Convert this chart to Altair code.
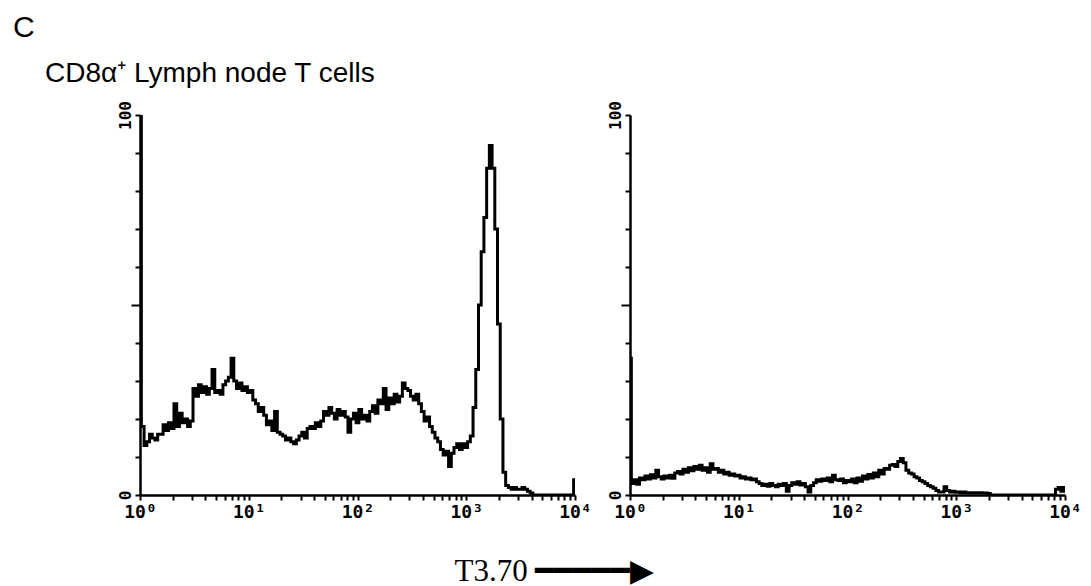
import altair as alt
import pandas as pd

# histogram channels: 40 channels per decade, channel 0 = 10^0
CHANNELS_PER_DECADE = 40

LEFT_COUNTS = [
    100, 18, 13, 14, 16, 15, 14.5, 16,
    16, 18.5, 17, 19, 17.5, 24, 18, 21.5,
    19, 20, 18, 19.5, 28, 26, 29, 27,
    28.5, 26.5, 28, 33, 27, 27.5, 26.5, 29,
    30, 31, 36, 30, 28, 29.5, 27.5, 28.5,
    27, 27.5, 25, 24, 22, 23, 21, 18.5,
    19.5, 17, 22, 16.5, 16, 15.5, 14.5, 15,
    14, 13.5, 14.5, 15.5, 16.5, 15, 17.5, 18,
    17.5, 19, 18, 19.5, 22, 21, 23, 21.5,
    20, 22.5, 21, 22, 20.5, 16.5, 20, 21.5,
    19, 22.5, 20, 21, 19.5, 22, 23.5, 21.5,
    25, 24, 28, 22.5, 25.5, 24, 26.5, 24.5,
    26, 29.5, 28, 27.5, 26, 25, 26.5, 24,
    22, 19.5, 20.5, 18, 16.5, 15, 14, 12,
    10.5, 11.5, 7.5, 11, 12.5, 13.5, 12, 13.5,
    12.5, 14, 15.5, 23, 33, 50, 64, 73,
    86, 92, 86, 70, 45, 20, 6, 2.5,
    2, 1.5, 2, 1.5, 1.5, 2, 1.5, 1,
    0.5, 0, 0, 0, 0, 0, 0, 0,
    0, 0, 0, 0, 0, 0, 0, 0,
    4,
]

RIGHT_COUNTS = [
    36, 3, 4, 2.8, 4.5, 4, 5, 4.2,
    5.3, 4.5, 6.5, 4.8, 4.2, 5, 4.5, 5.2,
    4.4, 5.8, 6.2, 5.5, 6.8, 6, 7.2, 6.4,
    7.5, 6.8, 7.8, 6.5, 7.2, 6, 8.2, 6.8,
    7, 6, 6.5, 5.5, 6, 5.2, 5.5, 5,
    5.2, 4.5, 4.8, 4.2, 4.5, 4, 4.2, 3.5,
    3, 2.5, 2.8, 2.3, 3, 2.5, 2.2, 2.8,
    2.5, 3, 1, 2.5, 3.2, 2.8, 3.5, 2.6,
    3, 2.2, 0.8, 2.5, 3.2, 4, 3.6, 4.2,
    3.8, 4.5, 3.5, 5.2, 4, 3.8, 4.2, 3.2,
    3.8, 3.5, 4.2, 3.2, 4.5, 3.6, 5, 4.2,
    5.4, 4.5, 5.8, 4.8, 6.5, 5.5, 7, 6.8,
    7.8, 8, 7.5, 8.8, 9.6, 8.5, 6.5, 5.8,
    5.5, 4.8, 4.5, 3.8, 3.5, 3, 2.5, 2.2,
    1.8, 1.2, 0.8, 0.8, 2.2, 1.2, 0.8, 1,
    0.7, 0.8, 0.6, 0.8, 0.5, 0.6, 0.5, 0.6,
    0.5, 0.6, 0.5, 0.5, 0.4, 0, 0, 0,
    0, 0, 0, 0, 0, 0, 0, 0,
    0, 0, 0, 0, 0, 0, 0, 0,
    0, 0, 0, 0, 0, 1.5, 2, 1,
    2,
]

X_TICKS = [
    1, 2, 3, 4, 5, 6, 7, 8, 9,
    10, 20, 30, 40, 50, 60, 70, 80, 90,
    100, 200, 300, 400, 500, 600, 700, 800, 900,
    1000, 2000, 3000, 4000, 5000, 6000, 7000, 8000, 9000,
    10000,
]
X_LABELS = {1: "10⁰", 10: "10¹", 100: "10²", 1000: "10³", 10000: "10⁴"}
Y_TICKS = [0, 10, 20, 30, 40, 50, 60, 70, 80, 90, 100]
Y_LABELS = {0: "0", 100: "100"}

TITLE_TOP = "C"
TITLE_PANEL = "CD8α⁺ Lymph node T cells"
X_TITLE = "T3.70 ━━━━━▶"


def label_expr(mapping):
    expr = "''"
    for k, v in reversed(list(mapping.items())):
        expr = f"datum.value == {k} ? '{v}' : ({expr})"
    return expr


def frame(counts):
    return pd.DataFrame({
        "intensity": [10 ** (i / CHANNELS_PER_DECADE) for i in range(len(counts))],
        "count": counts,
    })


MONO = "DejaVu Sans Mono"


def panel(counts, x_title=None, title=None):
    x_axis_kwargs = dict(
        values=X_TICKS,
        labelExpr=label_expr(X_LABELS),
        labelOverlap=False,
        labelFlush=False,
        labelFont=MONO,
        labelFontWeight="bold",
        labelFontSize=18,
        labelColor="black",
        labelPadding=3,
        tickSize=5,
        tickWidth=2,
        tickColor="black",
        domainWidth=2.5,
        domainColor="black",
        grid=False,
    )
    if x_title:
        x_axis_kwargs.update(
            title=x_title,
            titleFont="Liberation Serif",
            titleFontSize=31,
            titleFontWeight="normal",
            titleColor="black",
            titleAlign="left",
            titleBaseline="alphabetic",
            titleX=314,
            titleY=85,
        )
    else:
        x_axis_kwargs.update(title=None)
    y_axis = alt.Axis(
        values=Y_TICKS,
        labelExpr=label_expr(Y_LABELS),
        labelOverlap=False,
        labelAngle=270,
        labelFont=MONO,
        labelFontWeight="bold",
        labelFontSize=16,
        labelColor="black",
        labelPadding=2,
        tickSize={"condition": {"test": "datum.value == 50", "value": 9}, "value": 5},
        tickWidth=2,
        tickColor="black",
        domainWidth=2.5,
        domainColor="black",
        grid=False,
        title=None,
    )
    props = dict(width=435, height=380)
    if title is not None:
        props["title"] = title
    return alt.Chart(frame(counts)).mark_line(
        color="black", strokeWidth=3, interpolate="step", clip=True
    ).encode(
        x=alt.X("intensity:Q", scale=alt.Scale(type="log", domain=[1, 10000], nice=False),
                axis=alt.Axis(**x_axis_kwargs)),
        y=alt.Y("count:Q", scale=alt.Scale(domain=[0, 100], nice=False), axis=y_axis),
    ).properties(**props)


left = panel(
    LEFT_COUNTS,
    x_title=X_TITLE,
    title=alt.TitleParams(
        TITLE_PANEL, anchor="start", dx=-68, fontSize=28, font="Liberation Sans",
        fontWeight="normal", color="black", offset=13,
    ),
)
right = panel(RIGHT_COUNTS)

chart = alt.hconcat(left, right, spacing=55, bounds="flush").properties(
    title=alt.TitleParams(
        TITLE_TOP, anchor="start", dx=-32, fontSize=30, font="Liberation Sans",
        fontWeight="normal", color="black", offset=17,
    ),
    padding={"left": 13, "top": 12, "right": 5, "bottom": 0},
).configure_view(stroke=None)

chart.save("out.html", embed_options={"renderer": "svg", "actions": False})
